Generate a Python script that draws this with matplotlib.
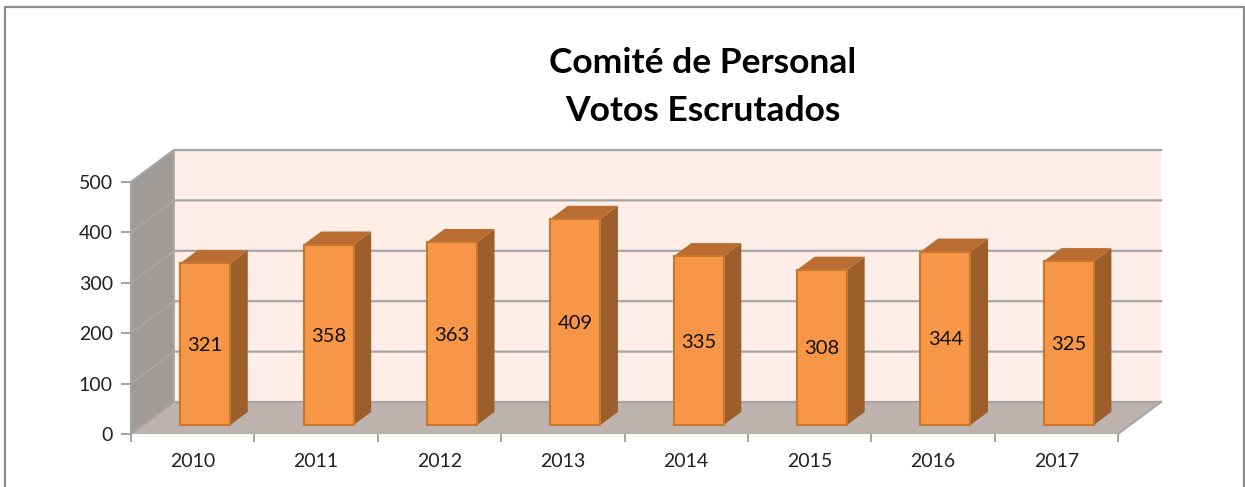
from matplotlib import pyplot as plt
from matplotlib.lines import Line2D

years = ['2010', '2011', '2012', '2013', '2014', '2015', '2016', '2017']
votos = [321, 358, 363, 409, 335, 308, 344, 325]
yticks = [0, 100, 200, 300, 400, 500]

W, H = 1245, 487
plt.rcParams['font.family'] = ['Lato', 'DejaVu Sans']

fig = plt.figure(figsize=(W / 100, H / 100), dpi=100, facecolor='white')
# axes = front plane of the fake 3d box
ax = fig.add_axes([131 / W, 1 - 434 / H, 987 / W, 252 / H])
ax.set_xlim(0, len(years))
ax.set_ylim(0, 500)
ax.patch.set_visible(False)
for s in ax.spines.values():
    s.set_visible(False)

# depth of the box, in data units
dx = 43 / (987 / len(years))
dy = 32 / (252 / 500)
n = len(years)
grid = '#a5a5a5'

# back wall, side wall, floor
ax.fill([dx, n + dx, n + dx, dx], [dy, dy, 500 + dy, 500 + dy], color='#feeee7', lw=0, clip_on=False, zorder=1)
ax.fill([0, dx, dx, 0], [0, dy, 500 + dy, 500], color='#a09b97', lw=0, clip_on=False, zorder=1)
ax.fill([0, n, n + dx, dx], [0, 0, dy, dy], color='#bdb2ae', lw=0, clip_on=False, zorder=1)

# grid on the walls
for t in yticks:
    ax.plot([0, dx, n + dx], [t, t + dy, t + dy], color=grid, lw=1.6, clip_on=False, zorder=2)
ax.plot([dx, dx], [dy, 500 + dy], color=grid, lw=1.2, clip_on=False, zorder=2)
ax.plot([0, 0], [0, 500], color=grid, lw=1.6, clip_on=False, zorder=2)
ax.plot([n, n + dx], [0, dy], color=grid, lw=1.4, clip_on=False, zorder=2)

# bars sit in the middle of the floor
d0 = 0.28
d1 = 0.69
w = 50 / (987 / n)
for i in range(n):
    v = votos[i]
    left = i + 0.5 + 0.29 * dx - w / 2
    right = left + w
    base = d0 * dy
    sx = (d1 - d0) * dx
    sy = (d1 - d0) * dy
    ax.fill([right, right + sx, right + sx, right], [base, base + sy, base + v + sy, base + v],
            color='#9c5f2b', lw=0, clip_on=False, zorder=3)
    ax.fill([left, left + sx, right + sx, right], [base + v, base + v + sy, base + v + sy, base + v],
            color='#b96d31', lw=0, clip_on=False, zorder=3)
    ax.bar(left + w / 2, v, width=w, bottom=base, color='#f79646', edgecolor='#c8772f', lw=1.5,
           clip_on=False, zorder=4)
    ax.text(left + w / 2, base + v / 2 - 3, str(v), ha='center', va='center', fontsize=14.5, color='#111111', zorder=5)

ax.set_yticks(yticks)
ax.set_xticks(range(n + 1))
ax.set_xticklabels([])
ax.set_xticks([i + 0.5 for i in range(n)], years, minor=True)
ax.tick_params(axis='y', length=7, width=1.4, color=grid, labelsize=14, labelcolor='#222222', pad=6)
ax.tick_params(axis='x', which='major', length=6, width=1.4, color=grid)
ax.tick_params(axis='x', which='minor', length=0, labelsize=14, labelcolor='#222222', pad=14)

fig.text(703 / W, 1 - 87 / H, 'Comité de Personal\nVotos Escrutados', ha='center', va='center',
         fontsize=25.5, fontweight='bold', color='black', linespacing=1.6)

# frame of the chart, cut at the bottom of the image
fig.add_artist(Line2D([5 / W, 5 / W, 1244 / W, 1244 / W], [0, 1 - 7 / H, 1 - 7 / H, 0], color='#8c8c8c', lw=1.6))

fig.savefig('out.png', dpi=100)
